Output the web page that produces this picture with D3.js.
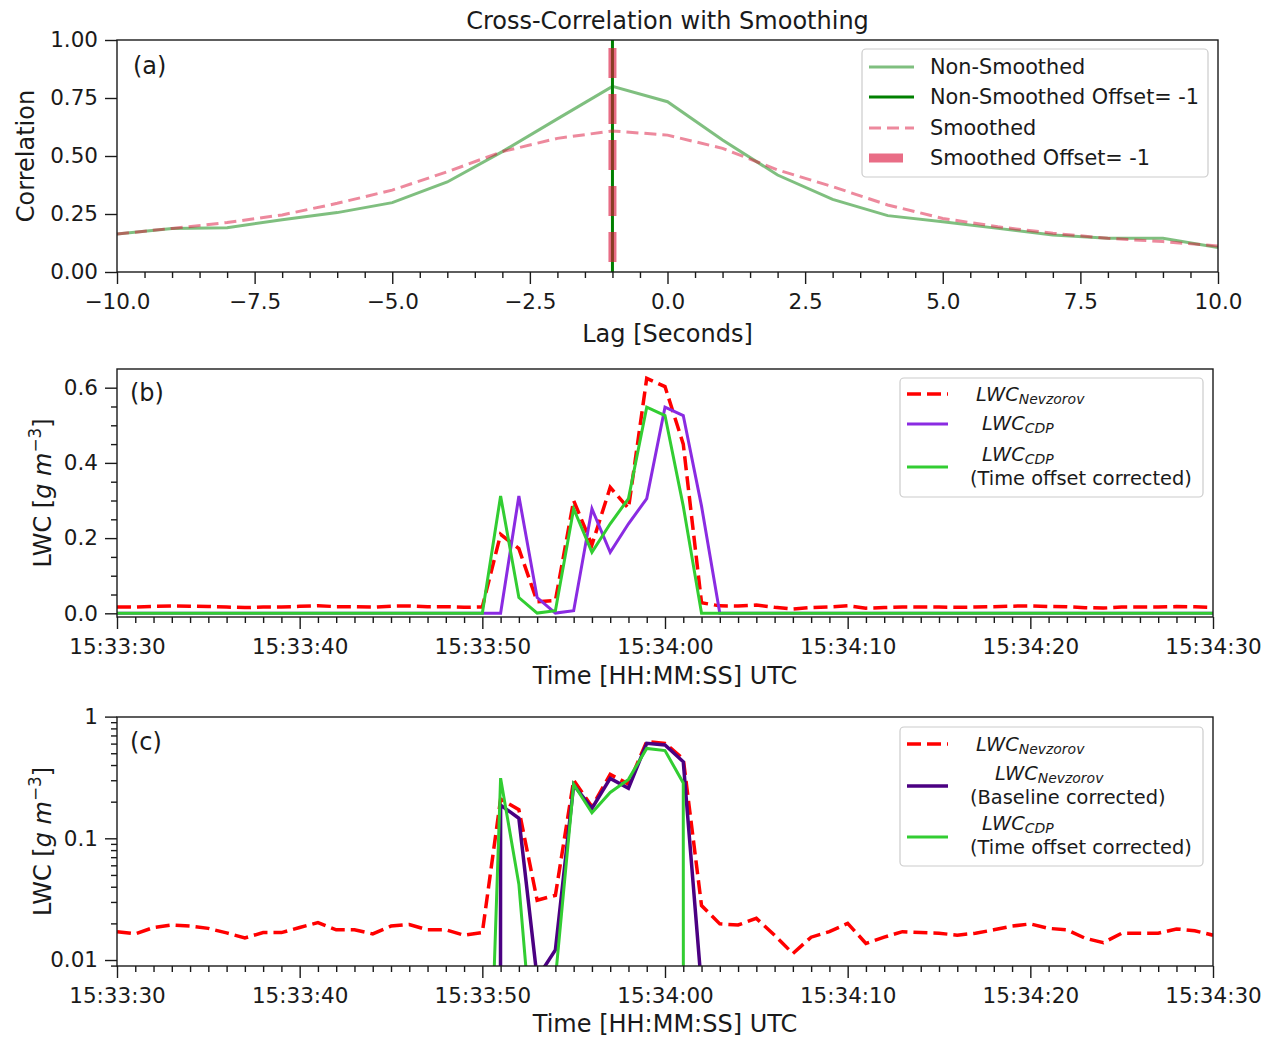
<!DOCTYPE html>
<html>
<head>
<meta charset="utf-8">
<script src="https://cdn.jsdelivr.net/npm/d3@7"></script>
<style>
  body { margin: 0; background: #fff; }
  svg { font-family: "DejaVu Sans", sans-serif; }
</style>
</head>
<body>
<svg id="fig" width="1272" height="1037"></svg>
<script>
// ---- (a) cross-correlation vs lag ----
const lags = [-10, -9, -8, -7, -6, -5, -4, -3, -2, -1, 0, 1, 2, 3, 4, 5, 6, 7, 8, 9, 10];
const corrRaw = [0.164, 0.188, 0.191, 0.225, 0.256, 0.299, 0.388, 0.519, 0.66, 0.80, 0.734,
                 0.569, 0.418, 0.313, 0.243, 0.217, 0.188, 0.159, 0.145, 0.145, 0.106];
const corrSmooth = [0.164, 0.188, 0.213, 0.246, 0.296, 0.353, 0.432, 0.519, 0.576, 0.608, 0.590,
                    0.533, 0.44, 0.368, 0.289, 0.231, 0.195, 0.167, 0.145, 0.131, 0.112];
const offsetRaw = -1;
const offsetSmooth = -1;
const lagTicks = [-10, -7.5, -5, -2.5, 0, 2.5, 5, 7.5, 10];
const corrTicks = [0, 0.25, 0.5, 0.75, 1];

// ---- (b), (c) liquid water content time series, 1 Hz from 15:33:30 UTC ----
const timeTickSeconds = [0, 10, 20, 30, 40, 50, 60];
const timeTickLabels = ["15:33:30", "15:33:40", "15:33:50", "15:34:00", "15:34:10", "15:34:20", "15:34:30"];
const nevzorov = [
  0.0171, 0.0164, 0.0185, 0.0194, 0.0190, 0.0182, 0.0167, 0.0152, 0.0168, 0.0168,
  0.0185, 0.0203, 0.0177, 0.0177, 0.0164, 0.0190, 0.0196, 0.0177, 0.0177, 0.0160,
  0.0168, 0.210, 0.172, 0.031, 0.034, 0.300, 0.182, 0.335, 0.279, 0.625,
  0.603, 0.450, 0.028, 0.0198, 0.0194, 0.0220, 0.0160, 0.0113, 0.0154, 0.0171,
  0.0200, 0.0137, 0.0154, 0.0171, 0.0168, 0.0166, 0.0160, 0.0166, 0.0177, 0.0190,
  0.0198, 0.0182, 0.0177, 0.0151, 0.0139, 0.0166, 0.0166, 0.0166, 0.0180, 0.0174,
  0.0160];
const nevzorovBaseline = [
  0, 0, 0, 0, 0, 0, 0, 0, 0, 0,
  0, 0, 0, 0, 0, 0, 0, 0, 0, 0,
  0, 0.1875, 0.146, 0.0071, 0.0121, 0.274, 0.176, 0.311, 0.258, 0.604,
  0.585, 0.426, 0.006, 0, 0, 0, 0, 0, 0, 0,
  0, 0, 0, 0, 0, 0, 0, 0, 0, 0,
  0, 0, 0, 0, 0, 0, 0, 0, 0, 0,
  0];
// CDP record runs one sample past 15:34:30
const cdp = [
  0, 0, 0, 0, 0, 0, 0, 0, 0, 0,
  0, 0, 0, 0, 0, 0, 0, 0, 0, 0,
  0, 0.00001, 0.312, 0.042, 0.0007, 0.007, 0.278, 0.162, 0.238, 0.305,
  0.548, 0.526, 0.285, 0, 0, 0, 0, 0, 0, 0,
  0, 0, 0, 0, 0, 0, 0, 0, 0, 0,
  0, 0, 0, 0, 0, 0, 0, 0, 0, 0,
  0, 0];
const cdpOffset = -1;   // seconds applied to the CDP record

const svg = d3.select("#fig");
const INK = "#1a1a1a";
const TICKFONT = 21.5;
const LABELFONT = 24;

function styleAxis(g) {
  g.attr("font-family", "DejaVu Sans").attr("font-size", TICKFONT);
  g.select(".domain").remove();
  g.selectAll(".tick line").attr("stroke", INK).attr("stroke-width", 1.4);
  g.selectAll(".tick text").attr("fill", INK);
}

function frame(x0, y0, x1, y1) {
  svg.append("rect").attr("x", x0).attr("y", y0).attr("width", x1 - x0).attr("height", y1 - y0)
    .attr("fill", "none").attr("stroke", INK).attr("stroke-width", 1.4);
}

function clip(id, x0, y0, x1, y1) {
  svg.append("clipPath").attr("id", id).append("rect")
    .attr("x", x0).attr("y", y0).attr("width", x1 - x0).attr("height", y1 - y0);
  return svg.append("g").attr("clip-path", `url(#${id})`);
}

function legendFrame(x0, y0, x1, y1) {
  svg.append("rect").attr("x", x0).attr("y", y0).attr("width", x1 - x0).attr("height", y1 - y0)
    .attr("rx", 4).attr("fill", "#fff").attr("fill-opacity", 0.85)
    .attr("stroke", "#cccccc").attr("stroke-width", 1.2);
}

// italic LWC with a subscript, roughly as mathtext renders it
function lwcLabel(x, cy, sub, size) {
  const t = svg.append("text").attr("x", x).attr("y", cy + size * 0.36)
    .attr("font-size", size).attr("fill", INK).attr("font-style", "italic");
  t.append("tspan").text("LWC");
  t.append("tspan").attr("font-size", size * 0.72).attr("dy", size * 0.16).text(sub);
}

function plainLabel(x, cy, str, size) {
  svg.append("text").attr("x", x).attr("y", cy + size * 0.36)
    .attr("font-size", size).attr("fill", INK).text(str);
}

function lwcYLabel(cx, cy) {
  const t = svg.append("text").attr("transform", `translate(${cx},${cy}) rotate(-90)`)
    .attr("text-anchor", "middle").attr("font-size", LABELFONT).attr("fill", INK).attr("y", LABELFONT * 0.36);
  t.append("tspan").text("LWC [");
  t.append("tspan").attr("font-style", "italic").text("g m");
  t.append("tspan").attr("font-size", LABELFONT * 0.7).attr("dy", -LABELFONT * 0.42).text("−3");
  t.append("tspan").attr("dy", LABELFONT * 0.42).text("]");
}

// ======================= (a) =======================
{
  const L = 117, R = 1218, T = 40, B = 272;
  const x = d3.scaleLinear().domain([-10, 10]).range([L, R]);
  const y = d3.scaleLinear().domain([0, 1]).range([B, T]);
  const plot = clip("clipA", L, T, R, B);
  const line = d3.line().x((d, i) => x(lags[i])).y(d => y(d));

  plot.append("path").attr("d", line(corrRaw)).attr("fill", "none")
    .attr("stroke", "green").attr("stroke-opacity", 0.5).attr("stroke-width", 3);
  plot.append("line").attr("x1", x(offsetRaw)).attr("x2", x(offsetRaw)).attr("y1", y(0)).attr("y2", y(1))
    .attr("stroke", "green").attr("stroke-width", 3);
  plot.append("path").attr("d", line(corrSmooth)).attr("fill", "none")
    .attr("stroke", "crimson").attr("stroke-opacity", 0.5).attr("stroke-width", 3)
    .attr("stroke-dasharray", "12 6");
  plot.append("line").attr("x1", x(offsetSmooth)).attr("x2", x(offsetSmooth)).attr("y1", y(1)).attr("y2", y(0))
    .attr("stroke", "crimson").attr("stroke-opacity", 0.62).attr("stroke-width", 8)
    .attr("stroke-dasharray", "30 16").attr("stroke-dashoffset", -8);

  const minorX = d3.range(-10, 10.001, 0.5).filter(v => !lagTicks.includes(v));
  svg.append("g").attr("transform", `translate(0,${B})`)
    .call(d3.axisBottom(x).tickValues(minorX).tickSize(6).tickFormat("")).call(styleAxis);
  svg.append("g").attr("transform", `translate(0,${B})`)
    .call(d3.axisBottom(x).tickValues(lagTicks).tickSize(12).tickPadding(10).tickFormat(d3.format(".1f")))
    .call(styleAxis);
  svg.append("g").attr("transform", `translate(${L},0)`)
    .call(d3.axisLeft(y).tickValues(corrTicks).tickSize(12).tickPadding(7).tickFormat(d3.format(".2f")))
    .call(styleAxis);
  frame(L, T, R, B);

  svg.append("text").attr("x", (L + R) / 2).attr("y", 29).attr("text-anchor", "middle")
    .attr("font-size", LABELFONT).attr("fill", INK).text("Cross-Correlation with Smoothing");
  svg.append("text").attr("x", (L + R) / 2).attr("y", 342).attr("text-anchor", "middle")
    .attr("font-size", LABELFONT).attr("fill", INK).text("Lag [Seconds]");
  svg.append("text").attr("transform", `translate(25,${(T + B) / 2}) rotate(-90)`).attr("y", LABELFONT * 0.36)
    .attr("text-anchor", "middle").attr("font-size", LABELFONT).attr("fill", INK).text("Correlation");
  svg.append("text").attr("x", 133).attr("y", 74).attr("font-size", LABELFONT).attr("fill", INK).text("(a)");

  // legend
  const LF = 20.8;
  legendFrame(862, 49, 1208, 177);
  const rows = [67, 97, 128, 158];
  svg.append("line").attr("x1", 869).attr("x2", 914).attr("y1", rows[0]).attr("y2", rows[0])
    .attr("stroke", "green").attr("stroke-opacity", 0.5).attr("stroke-width", 3);
  svg.append("line").attr("x1", 869).attr("x2", 914).attr("y1", rows[1]).attr("y2", rows[1])
    .attr("stroke", "green").attr("stroke-width", 3);
  svg.append("line").attr("x1", 869).attr("x2", 914).attr("y1", rows[2]).attr("y2", rows[2])
    .attr("stroke", "crimson").attr("stroke-opacity", 0.5).attr("stroke-width", 3).attr("stroke-dasharray", "12 6");
  svg.append("line").attr("x1", 869).attr("x2", 903).attr("y1", rows[3]).attr("y2", rows[3])
    .attr("stroke", "crimson").attr("stroke-opacity", 0.62).attr("stroke-width", 9);
  ["Non-Smoothed", `Non-Smoothed Offset= ${offsetRaw}`, "Smoothed", `Smoothed Offset= ${offsetSmooth}`]
    .forEach((s, i) => plainLabel(930, rows[i], s, LF));
}

// ======================= (b) =======================
{
  const L = 117, R = 1213, T = 369, B = 617;
  const x = d3.scaleLinear().domain([0, 60]).range([L, R]);
  const y = d3.scaleLinear().domain([-0.0098, 0.6497]).range([B, T]);
  const plot = clip("clipB", L, T, R, B);
  const lineAt = (shift) => d3.line().x((d, i) => x(i + shift)).y(d => y(d));

  plot.append("path").attr("d", lineAt(0)(nevzorov)).attr("fill", "none")
    .attr("stroke", "red").attr("stroke-width", 3.5).attr("stroke-dasharray", "14 6");
  plot.append("path").attr("d", lineAt(0)(cdp)).attr("fill", "none")
    .attr("stroke", "blueviolet").attr("stroke-width", 3);
  plot.append("path").attr("d", lineAt(cdpOffset)(cdp)).attr("fill", "none")
    .attr("stroke", "limegreen").attr("stroke-width", 3);

  const minorX = d3.range(0, 61).filter(v => !timeTickSeconds.includes(v));
  svg.append("g").attr("transform", `translate(0,${B})`)
    .call(d3.axisBottom(x).tickValues(minorX).tickSize(6).tickFormat("")).call(styleAxis);
  svg.append("g").attr("transform", `translate(0,${B})`)
    .call(d3.axisBottom(x).tickValues(timeTickSeconds).tickSize(12).tickPadding(10)
      .tickFormat((d, i) => timeTickLabels[i])).call(styleAxis);
  const yTicks = [0, 0.2, 0.4, 0.6];
  const minorY = d3.range(0, 0.65, 0.05).filter(v => !yTicks.some(t => Math.abs(t - v) < 1e-9));
  svg.append("g").attr("transform", `translate(${L},0)`)
    .call(d3.axisLeft(y).tickValues(minorY).tickSize(6).tickFormat("")).call(styleAxis);
  svg.append("g").attr("transform", `translate(${L},0)`)
    .call(d3.axisLeft(y).tickValues(yTicks).tickSize(12).tickPadding(7).tickFormat(d3.format(".1f")))
    .call(styleAxis);
  frame(L, T, R, B);

  svg.append("text").attr("x", 665).attr("y", 684).attr("text-anchor", "middle")
    .attr("font-size", LABELFONT).attr("fill", INK).text("Time [HH:MM:SS] UTC");
  lwcYLabel(42, (T + B) / 2);
  svg.append("text").attr("x", 130).attr("y", 401).attr("font-size", LABELFONT).attr("fill", INK).text("(b)");

  const LF = 19.4;
  legendFrame(900, 378, 1203, 497);
  svg.append("line").attr("x1", 907).attr("x2", 948).attr("y1", 394).attr("y2", 394)
    .attr("stroke", "red").attr("stroke-width", 3.5).attr("stroke-dasharray", "14 6");
  svg.append("line").attr("x1", 907).attr("x2", 948).attr("y1", 424).attr("y2", 424)
    .attr("stroke", "blueviolet").attr("stroke-width", 3);
  svg.append("line").attr("x1", 907).attr("x2", 948).attr("y1", 467).attr("y2", 467)
    .attr("stroke", "limegreen").attr("stroke-width", 3);
  lwcLabel(976, 394, "Nevzorov", LF);
  lwcLabel(982, 423, "CDP", LF);
  lwcLabel(982, 454, "CDP", LF);
  plainLabel(970, 478, "(Time offset corrected)", LF);
}

// ======================= (c) =======================
{
  const L = 117, R = 1213, T = 717, B = 966;
  const x = d3.scaleLinear().domain([0, 60]).range([L, R]);
  const y = d3.scaleLog().domain([0.00893, 0.9925]).range([B, T]);
  const plot = clip("clipC", L, T, R, B);
  // non-positive values are clipped far below the axis, as on a log axis
  const ly = v => y(v > 0 ? v : 1e-300);
  const lineAt = (shift) => d3.line().x((d, i) => x(i + shift)).y(d => ly(d));

  plot.append("path").attr("d", lineAt(0)(nevzorov)).attr("fill", "none")
    .attr("stroke", "red").attr("stroke-width", 3.5).attr("stroke-dasharray", "14 6");
  plot.append("path").attr("d", lineAt(0)(nevzorovBaseline)).attr("fill", "none")
    .attr("stroke", "indigo").attr("stroke-width", 3.5);
  plot.append("path").attr("d", lineAt(cdpOffset)(cdp)).attr("fill", "none")
    .attr("stroke", "limegreen").attr("stroke-width", 3);

  const minorX = d3.range(0, 61).filter(v => !timeTickSeconds.includes(v));
  svg.append("g").attr("transform", `translate(0,${B})`)
    .call(d3.axisBottom(x).tickValues(minorX).tickSize(6).tickFormat("")).call(styleAxis);
  svg.append("g").attr("transform", `translate(0,${B})`)
    .call(d3.axisBottom(x).tickValues(timeTickSeconds).tickSize(12).tickPadding(10)
      .tickFormat((d, i) => timeTickLabels[i])).call(styleAxis);
  const yTicks = [0.01, 0.1, 1];
  const yTickLabels = ["0.01", "0.1", "1"];
  const minorY = [0.009, 0.02, 0.03, 0.04, 0.05, 0.06, 0.07, 0.08, 0.09,
                  0.2, 0.3, 0.4, 0.5, 0.6, 0.7, 0.8, 0.9];
  svg.append("g").attr("transform", `translate(${L},0)`)
    .call(d3.axisLeft(y).tickValues(minorY).tickSize(6).tickFormat("")).call(styleAxis);
  svg.append("g").attr("transform", `translate(${L},0)`)
    .call(d3.axisLeft(y).tickValues(yTicks).tickSize(12).tickPadding(7)
      .tickFormat((d, i) => yTickLabels[i])).call(styleAxis);
  frame(L, T, R, B);

  svg.append("text").attr("x", 665).attr("y", 1032).attr("text-anchor", "middle")
    .attr("font-size", LABELFONT).attr("fill", INK).text("Time [HH:MM:SS] UTC");
  lwcYLabel(42, (T + B) / 2);
  svg.append("text").attr("x", 130).attr("y", 750).attr("font-size", LABELFONT).attr("fill", INK).text("(c)");

  const LF = 19.4;
  legendFrame(900, 727, 1203, 866);
  svg.append("line").attr("x1", 907).attr("x2", 948).attr("y1", 744).attr("y2", 744)
    .attr("stroke", "red").attr("stroke-width", 3.5).attr("stroke-dasharray", "14 6");
  svg.append("line").attr("x1", 907).attr("x2", 948).attr("y1", 786).attr("y2", 786)
    .attr("stroke", "indigo").attr("stroke-width", 3.5);
  svg.append("line").attr("x1", 907).attr("x2", 948).attr("y1", 837).attr("y2", 837)
    .attr("stroke", "limegreen").attr("stroke-width", 3);
  lwcLabel(976, 744, "Nevzorov", LF);
  lwcLabel(995, 773, "Nevzorov", LF);
  plainLabel(970, 797, "(Baseline corrected)", LF);
  lwcLabel(982, 823, "CDP", LF);
  plainLabel(970, 847, "(Time offset corrected)", LF);
}
</script>
</body>
</html>
